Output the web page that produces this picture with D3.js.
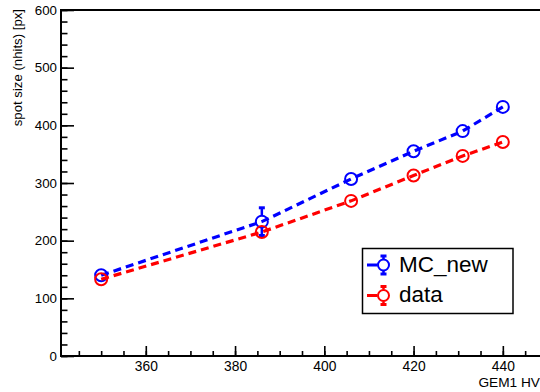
<!DOCTYPE html>
<html>
<head>
<meta charset="utf-8">
<script src="https://cdn.jsdelivr.net/npm/d3@7"></script>
<style>
  body { margin: 0; background: #fff; }
  svg { display: block; font-family: "Liberation Sans", Arial, Helvetica, sans-serif; }
</style>
</head>
<body>
<svg id="chart" width="540" height="392"></svg>
<script>
// GEM1 HV settings
const hv = [350, 386, 406, 420, 431, 440];
// MC_new spot size and error
const mcNew = [140, 233, 307, 355, 390, 432];
const mcNewErr = [3, 24, 4, 4, 4, 4];
// data spot size and error
const dataVals = [133, 215, 269, 313, 347, 371];
const dataErr = [2, 3, 2, 2, 2, 2];

const yMajor = [0, 100, 200, 300, 400, 500, 600];
const xMajor = [360, 380, 400, 420, 440];

const series = [
    { name: "MC_new", color: "#0000ff", values: mcNew, errors: mcNewErr },
    { name: "data", color: "#ff0000", values: dataVals, errors: dataErr },
];

const W = 540, H = 392;
const margin = { top: 10, right: -3, bottom: 36, left: 61 };

const svg = d3.select("#chart");

const x = d3.scaleLinear()
    .domain([341, 449])
    .range([margin.left, W - margin.right]);
const y = d3.scaleLinear()
    .domain([0, 600])
    .range([H - margin.bottom, margin.top]);

// frame
svg.append("rect")
    .attr("x", x.range()[0])
    .attr("y", y.range()[1])
    .attr("width", x.range()[1] - x.range()[0])
    .attr("height", y.range()[0] - y.range()[1])
    .attr("fill", "none")
    .attr("stroke", "#000")
    .attr("stroke-width", 2);

// y axis: minor + major ticks pointing inward
let yMinor = d3.range(0, 601, 20);
let yMinorAxis = svg.append("g")
    .attr("transform", "translate(" + margin.left + ",0)")
    .call(d3.axisLeft(y).tickValues(yMinor).tickSize(-6.5).tickFormat(""));
let yAxis = svg.append("g")
    .attr("transform", "translate(" + margin.left + ",0)")
    .call(d3.axisLeft(y).tickValues(yMajor).tickSize(-13).tickPadding(4).tickFormat(d3.format("d")));

// x axis
let xMinor = d3.range(345, 449, 5);
let xMinorAxis = svg.append("g")
    .attr("transform", "translate(0," + (H - margin.bottom) + ")")
    .call(d3.axisBottom(x).tickValues(xMinor).tickSize(-5).tickFormat(""));
let xAxis = svg.append("g")
    .attr("transform", "translate(0," + (H - margin.bottom) + ")")
    .call(d3.axisBottom(x).tickValues(xMajor).tickSize(-10).tickPadding(5).tickFormat(d3.format("d")));

for (let g of [yMinorAxis, yAxis, xMinorAxis, xAxis]) {
    g.select(".domain").remove();
    g.selectAll(".tick line").attr("stroke", "#000").attr("stroke-width", 1.6);
}
yAxis.selectAll("text").attr("font-size", 13.3).attr("fill", "#000").attr("font-family", null);
xAxis.selectAll("text").attr("font-size", 13.8).attr("fill", "#000").attr("font-family", null);

// axis titles
svg.append("text")
    .attr("transform", "translate(21.5,9) rotate(-90)")
    .attr("text-anchor", "end")
    .attr("font-size", 13.2)
    .text("spot size (nhits) [px]");
svg.append("text")
    .attr("x", 540)
    .attr("y", 387)
    .attr("text-anchor", "end")
    .attr("font-size", 13.7)
    .text("GEM1 HV");

const R = 6;

function drawErrorBar(g, cx, cyTop, cyBottom, cy, color) {
    // only the parts outside the marker
    if (cy - cyTop > R) {
        g.append("line").attr("x1", cx).attr("x2", cx).attr("y1", cyTop).attr("y2", cy - R)
            .attr("stroke", color).attr("stroke-width", 2.5);
        g.append("line").attr("x1", cx - 3).attr("x2", cx + 3).attr("y1", cyTop).attr("y2", cyTop)
            .attr("stroke", color).attr("stroke-width", 3);
    }
    if (cyBottom - cy > R) {
        g.append("line").attr("x1", cx).attr("x2", cx).attr("y1", cy + R).attr("y2", cyBottom)
            .attr("stroke", color).attr("stroke-width", 2.5);
        g.append("line").attr("x1", cx - 3).attr("x2", cx + 3).attr("y1", cyBottom).attr("y2", cyBottom)
            .attr("stroke", color).attr("stroke-width", 3);
    }
}

let line = d3.line()
    .x(d => x(d[0]))
    .y(d => y(d[1]));

for (let s of series) {
    let pts = hv.map((h, i) => [h, s.values[i], s.errors[i]]);
    let g = svg.append("g");
    g.append("path")
        .datum(pts)
        .attr("d", line)
        .attr("fill", "none")
        .attr("stroke", s.color)
        .attr("stroke-width", 3.2)
        .attr("stroke-dasharray", "8,5");
    for (let p of pts) {
        drawErrorBar(g, x(p[0]), y(p[1] + p[2]), y(p[1] - p[2]), y(p[1]), s.color);
    }
    g.selectAll("circle")
        .data(pts)
        .enter()
        .append("circle")
            .attr("cx", d => x(d[0]))
            .attr("cy", d => y(d[1]))
            .attr("r", R)
            .attr("fill", "none")
            .attr("stroke", s.color)
            .attr("stroke-width", 2);
}

// legend
let legend = svg.append("g");
legend.append("rect")
    .attr("x", 362.5)
    .attr("y", 248.5)
    .attr("width", 150.5)
    .attr("height", 65)
    .attr("fill", "#fff")
    .attr("stroke", "#000")
    .attr("stroke-width", 1.5);

series.forEach((s, i) => {
    let cy = 265 + i * 30.5;
    let cx = 383.5;
    let lg = legend.append("g");
    lg.append("line")
        .attr("x1", 367).attr("x2", cx - R)
        .attr("y1", cy).attr("y2", cy)
        .attr("stroke", s.color).attr("stroke-width", 3);
    drawErrorBar(lg, cx, cy - 9, cy + 9, cy, s.color);
    lg.append("circle")
        .attr("cx", cx).attr("cy", cy).attr("r", R - 0.5)
        .attr("fill", "none").attr("stroke", s.color).attr("stroke-width", 2);
    lg.append("text")
        .attr("x", 399)
        .attr("y", cy + 6.5)
        .attr("font-size", 22.5)
        .text(s.name);
});
</script>
</body>
</html>
